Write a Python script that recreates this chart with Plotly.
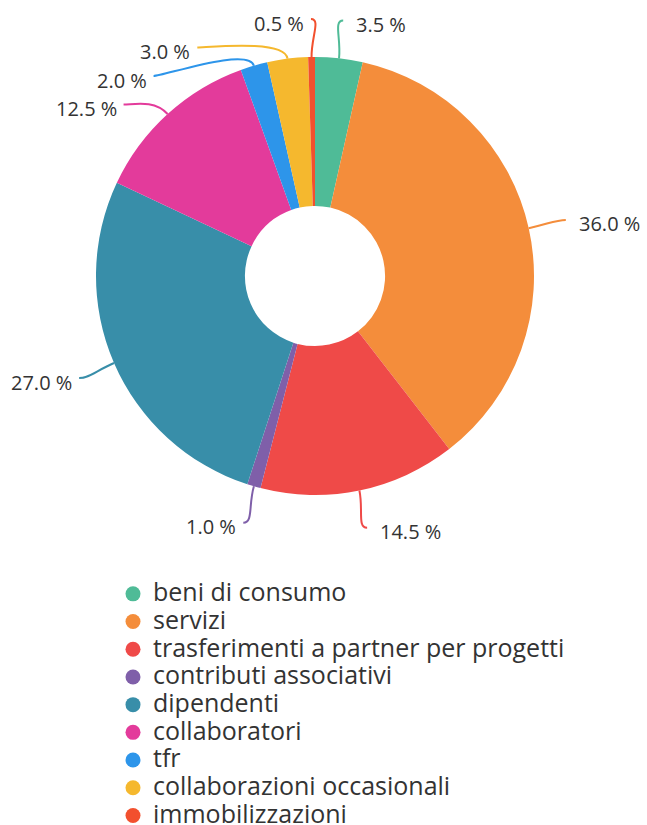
import math
import plotly.graph_objects as go

# ---- data ----
categories = [
    "beni di consumo",
    "servizi",
    "trasferimenti a partner per progetti",
    "contributi associativi",
    "dipendenti",
    "collaboratori",
    "tfr",
    "collaborazioni occasionali",
    "immobilizzazioni",
]
values = [3.5, 36.0, 14.5, 1.0, 27.0, 12.5, 2.0, 3.0, 0.5]
colors = ["#4fbb97", "#f48d3b", "#ef4a48", "#7f5fa9", "#388ea9",
          "#e33b9b", "#2d95ea", "#f5b82e", "#f2502e"]

# ---- geometry / style ----
W, H = 647, 825
CX, CY, R = 315, 276, 219
HOLE = 0.32
RL = 257      # label radius
GAP = 28.5    # min vertical spacing of labels
BEND = 20
HOOK = 10
FONT = "Open Sans, Noto Sans, sans-serif"
TXT = "#333333"


def px(x):
    return x / W


def py(y):
    return 1 - y / H


total = sum(values)
cum = 0.0
items = []
for i, v in enumerate(values):
    mid = (cum + v / 2) / total * 2 * math.pi
    cum += v
    s, c = math.sin(mid), math.cos(mid)
    side = 1 if s > 0 else -1
    items.append(dict(i=i, v=v, s=s, c=c, side=side,
                      x=CX + RL * s, y=CY - RL * c, moved=False))

for side in (1, -1):
    grp = sorted([it for it in items if it["side"] == side], key=lambda d: d["y"])
    prev = None
    for it in grp:
        if prev is not None and it["y"] < prev + GAP:
            it["y"] = prev + GAP
            it["moved"] = True
        prev = it["y"]
    for it in grp:
        if it["moved"]:
            dy = it["y"] - CY
            it["x"] = CX + side * math.sqrt(max(RL ** 2 - dy ** 2, 0))

fig = go.Figure()
fig.add_trace(go.Pie(
    labels=categories, values=values, sort=False, direction="clockwise",
    rotation=0, hole=HOLE, textinfo="none", showlegend=False,
    marker=dict(colors=colors, line=dict(width=0)),
    domain=dict(x=[px(CX - R), px(CX + R)], y=[py(CY + R), py(CY - R)]),
))

for name, col in zip(categories, colors):
    fig.add_trace(go.Scatter(x=[None], y=[None], mode="markers",
                             name=f'<span style="font-size:25px">{name}</span>',
                             marker=dict(symbol="circle", size=15, color=col),
                             hoverinfo="skip"))

shapes = []
annotations = []
for it in items:
    s, c, side = it["s"], it["c"], it["side"]
    x0, y0 = CX + R * s, CY - R * c
    x1, y1 = x0 + BEND * s, y0 - BEND * c
    x3, y3 = it["x"], it["y"]
    x2, y2 = x3 - side * HOOK, y3
    path = (f"M {px(x0)},{py(y0)} C {px(x1)},{py(y1)} "
            f"{px(x2)},{py(y2)} {px(x3)},{py(y3)}")
    shapes.append(dict(type="path", xref="paper", yref="paper", path=path,
                       line=dict(color=colors[it["i"]], width=2)))
    annotations.append(dict(
        x=px(x3), y=py(y3), xref="paper", yref="paper", showarrow=False,
        text=f"{it['v']:.1f} %", xanchor="left" if side > 0 else "right",
        yanchor="middle", xshift=11 if side > 0 else -5, yshift=-4,
        font=dict(family=FONT, size=20, color=TXT)))

fig.update_layout(
    width=W, height=H,
    margin=dict(l=0, r=0, t=0, b=0, autoexpand=False),
    paper_bgcolor="white", plot_bgcolor="white",
    xaxis=dict(visible=False), yaxis=dict(visible=False),
    shapes=shapes, annotations=annotations,
    showlegend=True,
    legend=dict(x=px(113), y=py(575), xanchor="left", yanchor="top",
                font=dict(family=FONT, size=19, color=TXT),
                bgcolor="rgba(0,0,0,0)", borderwidth=0),
    font=dict(family=FONT),
)

fig.write_html("out.html",
               config={"displayModeBar": False},
               post_script="document.body.style.margin='0';"
                           "document.body.style.overflow='hidden';")
